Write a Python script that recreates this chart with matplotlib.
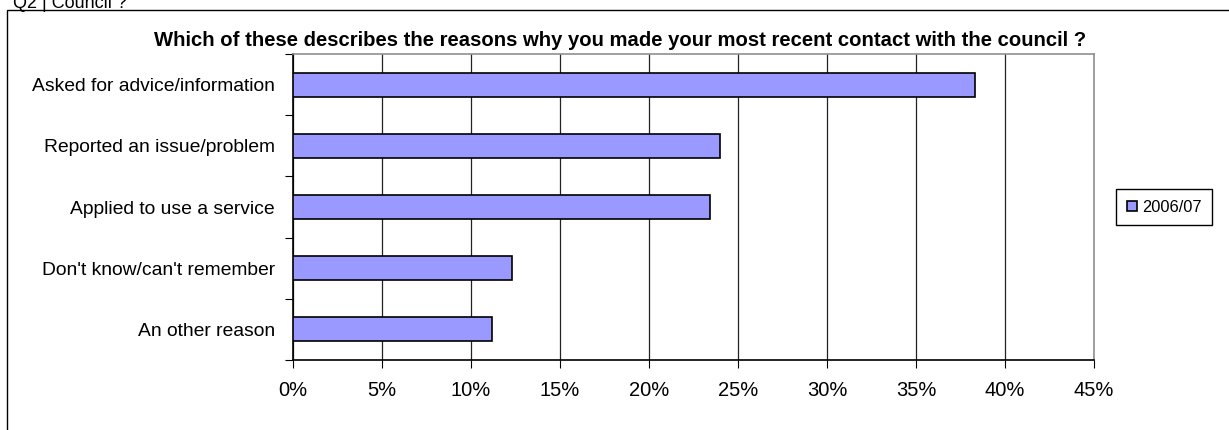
import matplotlib.pyplot as plt
from matplotlib.patches import Rectangle
from matplotlib.ticker import FixedLocator, PercentFormatter

plt.rcParams['font.family'] = ['Liberation Sans', 'DejaVu Sans']

categories = ["Asked for advice/information", "Reported an issue/problem",
              "Applied to use a service", "Don't know/can't remember",
              "An other reason"]
values = [38.3, 24.0, 23.4, 12.3, 11.2]
series_name = "2006/07"
title = "Which of these describes the reasons why you made your most recent contact with the council ?"
xticks = [0, 5, 10, 15, 20, 25, 30, 35, 40, 45]


def main():
    fig = plt.figure(figsize=(12.29, 4.30), dpi=100)

    # outer chart frame, running off the right and bottom edge
    fig.patches.append(Rectangle((7 / 1229, -0.1), 1.2, 1.1 - 10 / 430,
                                 transform=fig.transFigure, fill=False,
                                 edgecolor='black', linewidth=1.0))
    fig.text(13 / 1229, 1 - 8 / 430, "Q2 | Council ?", fontsize=13,
             ha='left', va='baseline')

    ax = fig.add_axes([293 / 1229, 1 - 360 / 430, 801 / 1229, 306 / 430])
    ypos = list(range(len(categories)))
    ax.barh(ypos, values, height=0.39, color='#9999FF', edgecolor='black',
            linewidth=1.2, label=series_name, zorder=3)

    ax.set_xlim(0, 45)
    ax.set_ylim(len(categories) - 0.5, -0.5)
    ax.xaxis.set_major_locator(FixedLocator(xticks))
    ax.xaxis.set_major_formatter(PercentFormatter(decimals=0))
    ax.grid(axis='x', color='#222222', linewidth=0.9, zorder=0)

    ax.set_yticks([y + 0.5 for y in range(-1, len(categories))])
    ax.set_yticklabels([])
    ax.set_yticks(ypos, minor=True)
    ax.set_yticklabels(categories, minor=True, fontsize=13.9)
    ax.tick_params(axis='y', which='minor', length=0, pad=13)
    ax.tick_params(axis='y', which='major', length=6, direction='out', color='black')
    ax.tick_params(axis='x', length=6, direction='out', labelsize=14.5, pad=9)

    ax.spines['left'].set_color('black')
    ax.spines['bottom'].set_color('black')
    ax.spines['top'].set_color('#909090')
    ax.spines['right'].set_color('#909090')
    for s in ax.spines.values():
        s.set_linewidth(1.2)

    fig.text(620 / 1229, 1 - 40 / 430, title, fontsize=14.6, fontweight='bold',
             ha='center', va='center')

    leg = ax.legend(loc='center left', bbox_to_anchor=(1.028, 0.5), fontsize=11.8,
                    fancybox=False, framealpha=1, edgecolor='black',
                    handlelength=0.6, handleheight=0.6, handletextpad=0.3,
                    borderpad=0.65, borderaxespad=0)
    leg.get_frame().set_linewidth(1.0)

    fig.savefig("out.png", dpi=100)


if __name__ == "__main__":
    main()
